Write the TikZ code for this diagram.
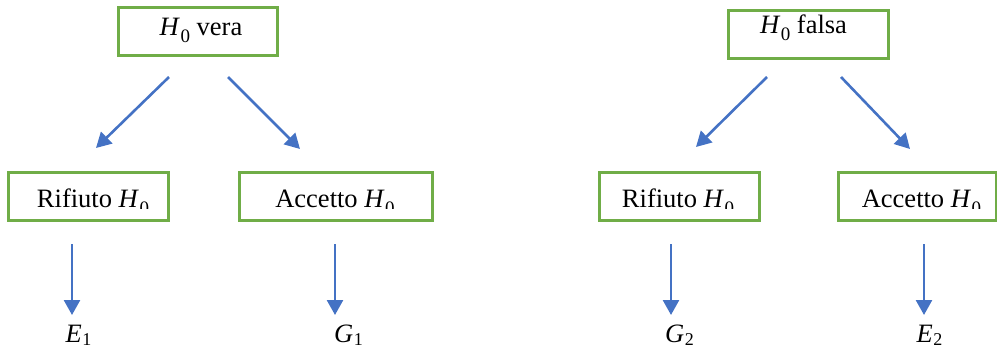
\documentclass[tikz,border=0pt]{standalone}
\usepackage{fontspec}
\setmainfont{Liberation Serif}
\usetikzlibrary{arrows.meta}
\definecolor{boxgreen}{HTML}{70AD47}
\definecolor{arrblue}{HTML}{4472C4}
\newcommand{\Hzero}{\textit{H}\kern0.5pt\raisebox{-0.3em}{\fontsize{19pt}{19pt}\selectfont 0}}
\newcommand{\lab}[2]{\textit{#1}\kern0.5pt\raisebox{-0.12em}{\fontsize{18pt}{18pt}\selectfont #2}}
\begin{document}
\begin{tikzpicture}[x=1pt,y=-1pt,
  box/.style={draw=boxgreen, line width=3pt, inner sep=0pt},
  txt/.style={inner sep=0pt, anchor=base, font=\fontsize{26.5pt}{30pt}\selectfont},
  arr/.style={draw=arrblue, line width=2.6pt, -{Triangle[length=15pt,width=16pt]}}]
\useasboundingbox (0,0) rectangle (997,351);
% boxes
\node[box, minimum width=159pt, minimum height=48pt] (bv) at (197.5,31) {};
\node[box, minimum width=160pt, minimum height=48pt] (bf) at (808,34) {};
\node[box, minimum width=160pt, minimum height=48pt] (brl) at (88,196) {};
\node[box, minimum width=193pt, minimum height=48pt] (bal) at (335.5,196) {};
\node[box, minimum width=160pt, minimum height=48pt] (brr) at (679,196) {};
\node[box, minimum width=158pt, minimum height=48pt] (bar) at (917,196) {};
% texts
\node[txt] (tv) at (201,35) {\Hzero{} vera};
\node[txt] (tf) at (803.5,33) {\Hzero{} falsa};
\begin{scope}
\clip (0,150) rectangle (997,208.5);
\node[txt] (trl) at (93,207) {Rifiuto \Hzero};
\node[txt] (tal) at (335,207) {Accetto \Hzero};
\node[txt] (trr) at (678,207) {Rifiuto \Hzero};
\node[txt] (tar) at (921.5,207) {Accetto \Hzero};
\end{scope}
% outcome labels
\node[txt] (e1) at (78.5,342) {\lab{E}{1}};
\node[txt] (g1) at (348.5,342) {\lab{G}{1}};
\node[txt] (g2) at (679.5,342) {\lab{G}{2}};
\node[txt] (e2) at (929.5,342) {\lab{E}{2}};
% arrow end points
\coordinate (a1s) at (169,77); \coordinate (a1e) at (96,148);
\coordinate (a2s) at (228,77); \coordinate (a2e) at (300,149);
\coordinate (a3s) at (767,77); \coordinate (a3e) at (696,147);
\coordinate (a4s) at (841,77); \coordinate (a4e) at (910,149);
\coordinate (v1s) at (72,244); \coordinate (v1e) at (72,315);
\coordinate (v2s) at (335,244); \coordinate (v2e) at (335,315);
\coordinate (v3s) at (671,244); \coordinate (v3e) at (671,315);
\coordinate (v4s) at (924,244); \coordinate (v4e) at (924,315);
\draw[arr] (a1s) -- (a1e);
\draw[arr] (a2s) -- (a2e);
\draw[arr] (a3s) -- (a3e);
\draw[arr] (a4s) -- (a4e);
\draw[arr] (v1s) -- (v1e);
\draw[arr] (v2s) -- (v2e);
\draw[arr] (v3s) -- (v3e);
\draw[arr] (v4s) -- (v4e);
\end{tikzpicture}
\end{document}
